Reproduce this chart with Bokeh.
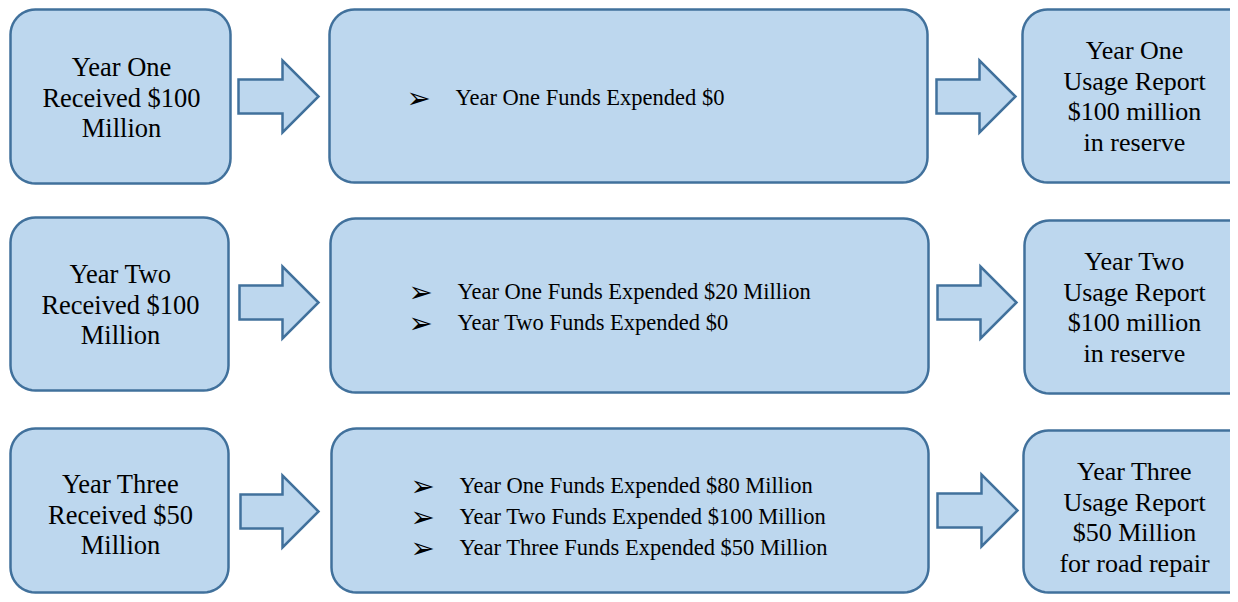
import numpy as np
from bokeh.plotting import figure
from bokeh.models import Range1d
from bokeh.core.properties import value
from bokeh.embed import file_html
from bokeh.resources import INLINE

# ---- data ----
received_labels = [
    ["Year One", "Received $100", "Million"],
    ["Year Two", "Received $100", "Million"],
    ["Year Three", "Received $50", "Million"],
]
expended_items = [
    ["Year One Funds Expended $0"],
    ["Year One Funds Expended $20 Million", "Year Two Funds Expended $0"],
    ["Year One Funds Expended $80 Million", "Year Two Funds Expended $100 Million",
     "Year Three Funds Expended $50 Million"],
]
report_labels = [
    ["Year One", "Usage Report", "$100 million", "in reserve"],
    ["Year Two", "Usage Report", "$100 million", "in reserve"],
    ["Year Three", "Usage Report", "$50 Million", "for road repair"],
]

# ---- layout (pixel-like coordinates, y down) ----
FILL = "#bdd7ee"
LINE = "#41719c"
FONT = "Liberation Serif"
W, H = 1230, 594

left_boxes = [(10, 230, 9, 183), (10, 228, 217, 390), (10, 228, 428, 592)]
mid_boxes = [(329, 927, 9, 182), (330, 928, 218, 392), (331, 928, 428, 592)]
right_boxes = [(1022, 1255, 9, 182), (1024, 1255, 220, 393), (1023, 1255, 430, 592)]
left_arrows = [(238, 318, 96), (239, 318, 302), (240, 318, 511)]
right_arrows = [(936, 1015, 96), (937, 1016, 302), (937, 1017, 510)]

p = figure(width=W, height=H, output_backend="svg", toolbar_location=None,
           x_range=Range1d(0, W), y_range=Range1d(H, 0),
           min_border=0)
p.axis.visible = False
p.grid.visible = False
p.outline_line_color = None
p.background_fill_color = "white"
p.border_fill_color = "white"


def rounded(x0, x1, y0, y1, r=25, n=12):
    xs, ys = [], []
    corners = [(x1 - r, y0 + r, -90, 0), (x1 - r, y1 - r, 0, 90),
               (x0 + r, y1 - r, 90, 180), (x0 + r, y0 + r, 180, 270)]
    for cx, cy, a0, a1 in corners:
        t = np.radians(np.linspace(a0, a1, n))
        xs.extend(cx + r * np.cos(t))
        ys.extend(cy + r * np.sin(t))
    return xs, ys


def arrow(x0, x1, yc):
    bh = 17  # half body height
    hh = 36  # half head height
    hx = x1 - 36
    xs = [x0, hx, hx, x1, hx, hx, x0]
    ys = [yc - bh, yc - bh, yc - hh, yc, yc + hh, yc + bh, yc + bh]
    return xs, ys


bx, by = [], []
for b in left_boxes + mid_boxes + right_boxes:
    xs, ys = rounded(*b)
    bx.append(xs)
    by.append(ys)
p.patches(bx, by, fill_color=FILL, line_color=LINE, line_width=2.5)

ax, ay = [], []
for a in left_arrows + right_arrows:
    xs, ys = arrow(*a)
    ax.append(xs)
    ay.append(ys)
p.patches(ax, ay, fill_color=FILL, line_color=LINE, line_width=2.5, line_join="miter")

LH = 30.7
text_rows = [(97, 0), (304, 0), (514, 0)]
# left texts
for lines, (x0, x1, y0, y1), (cy, _) in zip(received_labels, left_boxes, text_rows):
    n = len(lines)
    ys = [cy + (i - (n - 1) / 2) * LH for i in range(n)]
    p.text([(x0 + x1) / 2 + 1] * n, ys, text=lines, text_font=value(FONT),
           text_font_size="26.5px", text_align="center", text_baseline="middle",
           text_color="black")

# right texts
right_centers = [96, 307, 517]
for lines, cy in zip(report_labels, right_centers):
    n = len(lines)
    ys = [cy + (i - (n - 1) / 2) * LH for i in range(n)]
    p.text([1134] * n, ys, text=lines, text_font=value(FONT),
           text_font_size="26px", text_align="center", text_baseline="middle",
           text_color="black")

# middle bullet lists
mid_starts = [(455, 97), (457, 291), (459, 485)]
for items, (tx, ty) in zip(expended_items, mid_starts):
    n = len(items)
    ys = [ty + i * 31 for i in range(n)]
    p.text([tx] * n, ys, text=items, text_font=value(FONT),
           text_font_size="22.5px", text_align="left", text_baseline="middle",
           text_color="black")
    p.text([tx - 49] * n, ys, text=["\u27a2"] * n, text_font=value("DejaVu Sans"),
           text_font_size="29px", text_align="left", text_baseline="middle",
           text_color="black")

open("out.html", "w").write(file_html(p, INLINE))
